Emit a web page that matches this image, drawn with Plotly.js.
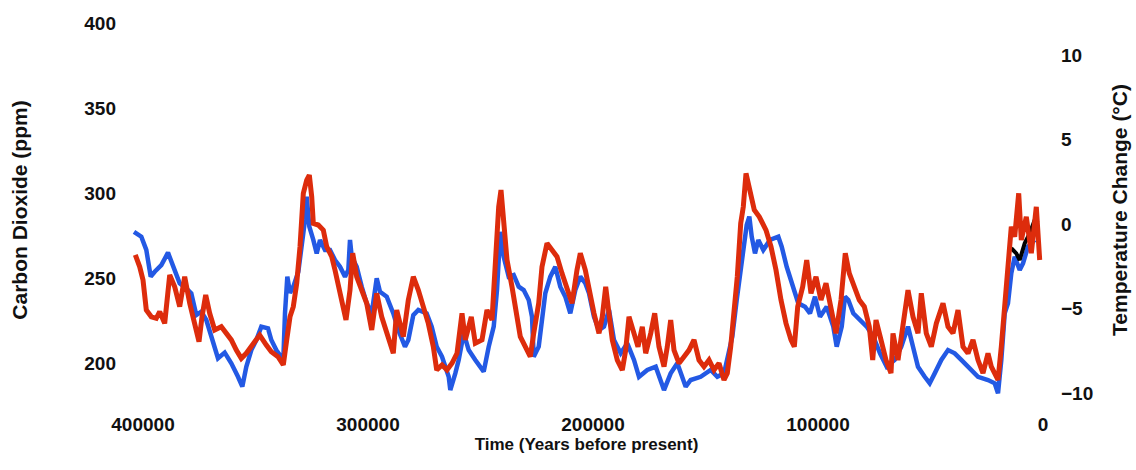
<!DOCTYPE html>
<html>
<head>
<meta charset="utf-8">
<script src="https://cdn.plot.ly/plotly-3.0.1.min.js"></script>
<style>html,body{margin:0;padding:0;background:#fff}#chart{width:1136px;height:470px}</style>
</head>
<body>
<div id="chart"></div>
<script>
// Vostok CO2 (years before present, ppm)
const co2Years = [404000,400750,398530,396580,394800,391860,388890,386670,383690,380750,378530,376310,374090,371860,368890,366670,363690,360750,357780,355860,354090,351860,349640,347420,344440,342970,340750,338530,337640,336890,335860,334670,333200,330970,329460,328000,327240,326080,324310,322800,321330,319110,316890,314670,312440,310220,308750,308000,307240,305020,302800,300580,298350,296130,294670,291690,288750,286530,283560,282090,279860,277640,273910,271690,269460,267110,264130,263420,261200,259690,257460,255240,252310,248570,246350,244130,242670,241200,239690,237470,235240,233020,230800,228580,227110,226350,224130,222670,221200,218970,216750,214530,212310,210090,207860,205640,203420,201780,199560,197330,195110,192890,190670,187690,184750,181780,179550,175860,172130,168440,165470,162530,158800,156580,152130,147690,144750,141780,140310,138090,136130,133910,131690,130530,129460,128000,126530,124310,121330,117640,116130,113910,111690,108750,105780,103560,101330,99110,96130,93200,91690,89460,88000,86530,84310,81330,78350,75420,72440,69470,65910,62980,60000,57780,55560,52580,50360,48130,45200,42220,39240,36310,31870,28890,24440,21470,20000,18530,17020,15560,14090,12580,10360,8890,6670,3690];
const co2Ppm = [277.2,274.3,266.5,250.8,253.7,257.6,264.9,256.6,246.9,243.9,241.0,228.2,230.2,225.3,211.6,202.8,206.1,199.8,191.9,186.1,197.8,207.6,213.5,221.4,220.4,213.5,207.6,203.7,201.8,229.4,250.8,241.2,244.9,253.7,268.4,284.1,297.8,280.2,272.4,264.5,272.4,266.5,266.5,260.6,256.6,250.8,254.7,272.4,262.5,256.6,244.9,235.1,229.2,249.8,241.9,239.0,229.2,219.4,209.6,213.5,228.2,231.2,229.2,221.4,209.6,203.7,191.9,184.1,193.9,201.8,217.5,207.6,201.8,194.9,209.6,221.4,242.9,277.2,262.5,250.8,251.8,244.9,242.9,237.1,227.2,203.7,209.6,227.2,241.0,250.8,256.6,244.9,239.0,229.2,242.9,250.8,246.9,241.0,227.2,219.4,221.4,231.2,213.5,205.7,211.6,201.8,191.9,195.9,197.8,184.1,193.9,199.8,186.1,190.0,191.9,195.9,191.9,193.9,201.8,215.5,237.1,260.6,281.2,286.1,274.3,264.5,272.4,266.5,272.4,274.3,268.4,256.6,246.9,235.1,233.1,229.2,239.0,227.2,233.1,221.4,209.6,221.4,239.0,237.1,229.2,225.3,221.4,215.5,205.7,197.8,201.8,209.6,221.4,209.6,197.8,191.9,188.1,193.9,201.8,207.6,205.7,201.8,195.9,191.9,190.0,188.1,182.2,201.8,229.2,235.1,252.8,262.5,254.7,258.6,268.4,272.4];

// Vostok temperature change (years before present, deg C)
const tempYears = [403420,401460,400000,398530,396310,394090,392580,390360,388130,385910,383690,381470,379240,377020,375110,373780,372130,370360,368130,365200,362970,360750,358530,356310,354090,351110,348130,345200,342970,340000,337640,336130,334670,333200,331690,330220,328750,327240,326080,325020,324310,322090,319860,318350,316130,314670,313200,310970,309780,308000,306800,305020,302800,300580,298350,296130,293910,291690,288750,287240,285780,284310,282090,279860,277640,275420,273200,270970,269460,267110,264890,262670,260440,258220,256750,254090,252310,249330,247110,244890,243420,241910,240890,239690,238220,236000,234530,232310,230090,227870,226350,224130,222670,220440,218220,216000,213780,211560,209330,207110,205640,203420,201910,201020,199560,197330,195870,194360,192890,191420,189200,186980,185470,184000,181780,180000,178090,176580,174350,172580,170670,168440,166980,165470,164000,161780,159550,157330,155110,152890,150670,148440,146220,144000,141780,140310,138800,137330,135870,134350,133200,132000,130530,128310,126090,123110,120890,118670,116440,114220,112000,110530,109020,106800,105020,103110,100890,98670,96440,94220,92000,89780,87870,86090,83870,81640,79420,77200,75690,74220,72000,69780,67560,66670,64440,62220,60000,57780,55560,54090,51870,49640,47420,44440,42220,40000,37780,35560,33330,31110,28890,26670,24440,22980,20000,18530,17020,15560,14090,12580,10800,9640,7420,5200,2980,1470];
const tempChange = [-1.83,-2.53,-3.31,-5.09,-5.49,-5.58,-5.19,-5.88,-3.02,-3.71,-4.89,-3.12,-4.69,-6.08,-6.96,-5.49,-4.20,-5.28,-6.27,-6.08,-6.47,-6.86,-7.46,-7.95,-7.65,-7.06,-6.57,-7.16,-7.56,-7.85,-8.34,-6.86,-5.49,-4.89,-3.51,-1.34,1.82,2.60,2.90,1.62,0.04,-0.06,-0.36,-1.34,-1.93,-2.72,-3.71,-4.89,-5.68,-3.91,-1.73,-3.12,-3.91,-4.69,-6.27,-4.10,-5.49,-6.47,-7.65,-5.09,-5.88,-6.67,-4.50,-3.12,-3.91,-4.89,-5.88,-7.26,-8.64,-8.34,-8.64,-8.24,-7.65,-5.28,-6.86,-5.49,-7.06,-6.86,-5.09,-5.68,-2.13,1.02,2.01,-0.16,-2.13,-3.71,-5.09,-6.67,-7.26,-7.85,-6.47,-4.69,-2.53,-1.14,-1.54,-1.93,-2.92,-3.91,-4.69,-2.72,-1.73,-2.72,-3.71,-4.50,-5.28,-6.47,-5.49,-3.71,-5.49,-6.86,-8.05,-8.64,-7.46,-5.49,-6.47,-7.26,-6.08,-7.65,-6.47,-5.28,-7.26,-8.44,-7.26,-5.68,-7.46,-8.24,-7.85,-7.46,-6.86,-8.05,-8.44,-8.05,-8.64,-8.24,-9.23,-8.83,-7.26,-5.49,-3.12,0.04,1.02,3.00,2.01,0.83,0.43,-0.36,-1.34,-2.72,-4.50,-5.88,-6.86,-7.26,-4.89,-3.71,-2.13,-4.10,-3.12,-4.50,-3.51,-5.09,-6.47,-4.50,-1.73,-2.92,-3.71,-4.50,-4.89,-6.08,-8.05,-5.68,-6.86,-8.05,-8.83,-6.47,-8.05,-6.08,-3.91,-5.49,-6.47,-4.10,-6.47,-7.26,-5.88,-4.69,-6.08,-6.47,-5.09,-7.26,-7.65,-6.86,-8.05,-8.83,-7.65,-8.44,-9.23,-7.26,-4.50,-2.13,-0.16,-0.75,1.82,-0.95,0.43,-1.73,1.02,-2.13];

// Holocene CO2 (black)
const holoYears = [14090,11870,10360,8130,5910,3690,2220];
const holoPpm = [267.5,264.5,260.6,270.4,276.3,284.1,282.2];

const xTicks = [400000,300000,200000,100000,0];
const co2Ticks = [200,250,300,350,400];
const tempTicks = [-10,-5,0,5,10];

const fam = '"Liberation Sans", Arial, sans-serif';
const tickFont = {family:fam, size:19, color:'#111', weight:'bold'};
const titleFont = {family:fam, size:21, color:'#111'};

const traces = [
  {x: co2Years, y: co2Ppm, type:'scatter', mode:'lines', name:'CO2', yaxis:'y',
   line:{color:'#2359e4', width:4.5, shape:'linear'}},
  {x: tempYears, y: tempChange, type:'scatter', mode:'lines', name:'Temperature', yaxis:'y2',
   line:{color:'#dd2c0c', width:5}},
  {x: holoYears, y: holoPpm, type:'scatter', mode:'lines', name:'Holocene CO2', yaxis:'y',
   line:{color:'#000', width:4}}
];

const layout = {
  width:1136, height:470,
  margin:{l:125, r:88, t:15, b:65},
  paper_bgcolor:'#fff', plot_bgcolor:'#fff',
  showlegend:false,
  xaxis:{range:[408000,-2222], tickvals:xTicks, ticktext:xTicks.map(String),
    showgrid:false, zeroline:false, showline:false, ticks:'', tickfont:tickFont,
    ticklabelstandoff:6,
    title:{text:'<b>Time (Years before present)</b>', font:{family:fam, size:17, color:'#111'}, standoff:4}},
  yaxis:{range:[175.3,404.7], tickvals:co2Ticks, showgrid:false, zeroline:false, showline:false, ticks:'',
    tickfont:tickFont, ticklabelstandoff:8,
    title:{text:'<b>Carbon Dioxide (ppm)</b>', font:titleFont, standoff:50}},
  yaxis2:{range:[-10.71,12.37], overlaying:'y', side:'right', tickvals:tempTicks,
    showgrid:false, zeroline:false, showline:false, ticks:'', tickfont:tickFont, ticklabelstandoff:12,
    title:{text:'<b>Temperature Change (°C)</b>', font:titleFont, standoff:20}}
};

Plotly.newPlot('chart', traces, layout, {displayModeBar:false, staticPlot:true});
</script>
</body>
</html>
